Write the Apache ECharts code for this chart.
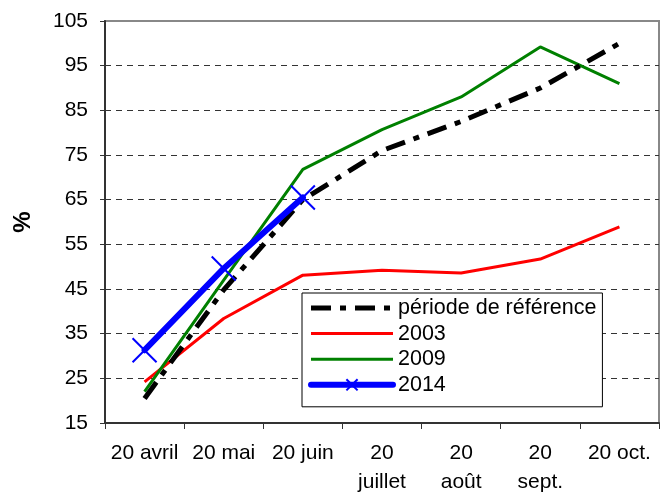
<!DOCTYPE html>
<html>
<head>
<meta charset="utf-8">
<script src="https://cdn.jsdelivr.net/npm/echarts@6/dist/echarts.min.js"></script>
<style>
  html, body { margin: 0; padding: 0; background: #fff; }
  #chart { width: 669px; height: 494px; }
</style>
</head>
<body>
<div id="chart"></div>
<script>
const categories = ['20 avril', '20 mai', '20 juin', '20\njuillet', '20\naoût', '20\nsept.', '20 oct.'];
const reference = [20.5, 44.8, 65, 76, 82.5, 90, 100];
const y2003 = [24.2, 38.4, 48.1, 49.2, 48.6, 51.7, 58.9];
const y2009 = [22, 47, 71.8, 80.7, 88, 99.2, 91];
const y2014 = [31.3, 49.6, 65.5];
const yTicks = [15, 25, 35, 45, 55, 65, 75, 85, 95, 105];

const font = 'Arial, "Liberation Sans", sans-serif';
const chart = echarts.init(document.getElementById('chart'));

// dashed grid lines everywhere except the top one (plot border sits there)
const gridColors = yTicks.map((t, i) => i === yTicks.length - 1 ? 'rgba(0,0,0,0)' : '#333');
// hide the circle echarts puts in the middle of line legend icons
const noDot = { color: 'rgba(0,0,0,0)', borderWidth: 0, opacity: 0 };

const option = {
  animation: false,
  backgroundColor: '#fff',
  textStyle: { fontFamily: font },
  grid: {
    left: 105, right: 10, top: 21, bottom: 71,
    containLabel: false,
    outerBoundsMode: 'none',
    show: true, borderColor: '#888', borderWidth: 2
  },
  legend: {
    orient: 'vertical',
    left: 302, top: 293,
    padding: [4, 6, 11, 6],
    itemWidth: 82, itemHeight: 14, itemGap: 3.6,
    backgroundColor: '#fff',
    borderColor: '#000', borderWidth: 1, borderRadius: 0,
    lineStyle: { width: 'inherit' },
    textStyle: { fontSize: 21.5, lineHeight: 22, color: '#000', fontFamily: font },
    data: [
      { name: 'période de référence', itemStyle: noDot },
      { name: '2003', itemStyle: noDot },
      { name: '2009', itemStyle: noDot },
      { name: '2014' }
    ]
  },
  xAxis: {
    type: 'category',
    data: categories,
    boundaryGap: true,
    axisLine: { lineStyle: { color: '#333', width: 2 } },
    axisTick: { show: true, length: 6, lineStyle: { color: '#333', width: 1 } },
    axisLabel: { interval: 0, fontSize: 21, color: '#000', margin: 16, lineHeight: 29, fontFamily: font }
  },
  yAxis: {
    type: 'value',
    min: 15, max: 105, interval: 10,
    name: '%',
    nameLocation: 'middle',
    nameGap: 70,
    nameRotate: 90,
    nameTextStyle: { fontSize: 24, fontWeight: 'bold', color: '#000', fontFamily: font },
    axisLine: { show: true, lineStyle: { color: '#333', width: 2 } },
    axisTick: { show: true, length: 5, lineStyle: { color: '#333' } },
    axisLabel: { fontSize: 21, color: '#000', margin: 17, fontFamily: font },
    splitLine: { show: true, lineStyle: { color: gridColors, width: 1, type: [6, 5] } }
  },
  series: [
    {
      name: 'période de référence', type: 'line', data: reference,
      symbol: 'none', z: 3,
      itemStyle: { color: '#000' },
      lineStyle: { color: '#000', width: 5, type: [20, 9, 6, 9], cap: 'butt' }
    },
    {
      name: '2003', type: 'line', data: y2003,
      symbol: 'none', z: 2,
      itemStyle: { color: '#ff0000' },
      lineStyle: { color: '#ff0000', width: 3 }
    },
    {
      name: '2009', type: 'line', data: y2009,
      symbol: 'none', z: 2,
      itemStyle: { color: '#008000' },
      lineStyle: { color: '#008000', width: 3 }
    },
    {
      name: '2014', type: 'line', data: y2014,
      symbol: 'path://M0,0L10,10M10,0L0,10', symbolSize: 24, z: 4,
      showAllSymbol: true,
      itemStyle: { color: 'rgba(0,0,0,0)', borderColor: '#0000ff', borderWidth: 2 },
      lineStyle: { color: '#0000ff', width: 6, cap: 'round' }
    }
  ]
};

chart.setOption(option);
</script>
</body>
</html>
